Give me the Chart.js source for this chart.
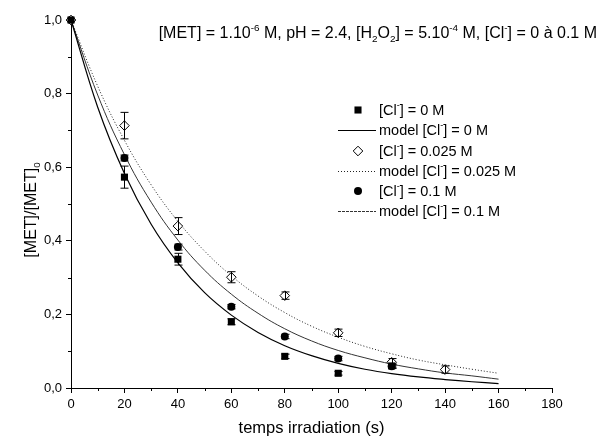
<!DOCTYPE html>
<html>
<head>
<meta charset="utf-8">
<script src="https://cdn.jsdelivr.net/npm/chart.js@4/dist/chart.umd.min.js"></script>
<style>
html,body{margin:0;padding:0;background:#fff;}
#wrap{width:602px;height:445px;position:relative;}
</style>
</head>
<body>
<div id="wrap"><canvas id="c" width="602" height="445"></canvas></div>
<script>
// ---- data ----
const timePoints = [0, 20, 40, 60, 80, 100, 120];
const timePoints025 = [0, 20, 40, 60, 80, 100, 120, 140];
const cl0Values = [1.0, 0.573, 0.35, 0.18, 0.086, 0.04, 0.06];
const cl0Errors = [0, 0.03, 0.016, 0.008, 0.006, 0.005, 0.005];
const cl025Values = [1.0, 0.713, 0.44, 0.301, 0.251, 0.15, 0.07, 0.05];
const cl025Errors = [0, 0.036, 0.023, 0.015, 0.01, 0.01, 0.01, 0.01];
const cl01Values = [1.0, 0.625, 0.383, 0.221, 0.14, 0.08, 0.059];
const cl01Errors = [0, 0.008, 0.008, 0.006, 0.006, 0.006, 0.006];

const modelTimes = [0, 10, 20, 30, 40, 50, 60, 70, 80, 90, 100, 110, 120, 130, 140, 150, 160];
const model0 = [1, 0.763, 0.583, 0.445, 0.340, 0.259, 0.198, 0.151, 0.115, 0.088, 0.067, 0.051, 0.039, 0.030, 0.023, 0.017, 0.012];
const model025 = [1, 0.820, 0.673, 0.552, 0.453, 0.372, 0.305, 0.250, 0.205, 0.168, 0.138, 0.113, 0.093, 0.076, 0.063, 0.051, 0.040];
const model01 = [1, 0.796, 0.634, 0.505, 0.402, 0.320, 0.255, 0.203, 0.161, 0.128, 0.102, 0.082, 0.065, 0.052, 0.041, 0.033, 0.024];

const xTicks = [0, 20, 40, 60, 80, 100, 120, 140, 160, 180];
const yTicks = [0, 0.2, 0.4, 0.6, 0.8, 1.0];

const FONT = '"Liberation Sans", Arial, sans-serif';

function pts(xs, ys) { return xs.map((x, i) => ({x: x, y: ys[i]})); }

const datasets = [
  {label: 'cl0', data: pts(timePoints, cl0Values), errors: cl0Errors, showLine: false,
   pointStyle: 'rect', pointRadius: 5, backgroundColor: '#000', borderColor: '#000', borderWidth: 0, clip: false},
  {label: 'model0', data: pts(modelTimes, model0), showLine: true, pointRadius: 0,
   borderColor: '#000', borderWidth: 1.2, tension: 0.4, clip: false},
  {label: 'cl025', data: pts(timePoints025, cl025Values), errors: cl025Errors, showLine: false,
   pointStyle: 'rectRot', pointRadius: 4.8, backgroundColor: '#fff', borderColor: '#000', borderWidth: 1, clip: false},
  {label: 'model025', data: pts(modelTimes, model025), showLine: true, pointRadius: 0,
   borderColor: '#222', borderWidth: 1, borderDash: [1, 2], tension: 0.4, clip: false},
  {label: 'cl01', data: pts(timePoints, cl01Values), errors: cl01Errors, showLine: false,
   pointStyle: 'circle', pointRadius: 4, backgroundColor: '#000', borderColor: '#000', borderWidth: 0, clip: false},
  {label: 'model01', data: pts(modelTimes, model01), showLine: true, pointRadius: 0,
   borderColor: '#333', borderWidth: 1, tension: 0.4, clip: false}
];

function richWidth(ctx, segs, size) {
  let w = 0;
  segs.forEach(s => {
    const sz = (s.sup || s.sub) ? size * 0.62 : size;
    ctx.font = sz + 'px ' + FONT;
    w += ctx.measureText(s.t).width;
  });
  return w;
}
// draws rich text segments (sup/sub) starting at x, baseline y
function drawRich(ctx, segs, x, y, size) {
  let cx = x;
  segs.forEach(s => {
    const sz = (s.sup || s.sub) ? size * 0.62 : size;
    ctx.font = sz + 'px ' + FONT;
    let dy = 0;
    if (s.sup) dy = -size * 0.45;
    if (s.sub) dy = size * 0.25;
    ctx.fillText(s.t, cx, y + dy);
    cx += ctx.measureText(s.t).width;
  });
  return cx;
}

const errorBars = {
  id: 'errorBars',
  afterDatasetsDraw(chart) {
    const ctx = chart.ctx, xs = chart.scales.x, ys = chart.scales.y;
    ctx.save();
    ctx.strokeStyle = '#000';
    ctx.lineWidth = 1;
    chart.data.datasets.forEach(ds => {
      if (!ds.errors) return;
      ds.data.forEach((p, i) => {
        const e = ds.errors[i];
        if (!e) return;
        const px = Math.round(xs.getPixelForValue(p.x)) + 0.5;
        const y1 = ys.getPixelForValue(p.y + e), y2 = ys.getPixelForValue(p.y - e);
        ctx.beginPath();
        ctx.moveTo(px, y1); ctx.lineTo(px, y2);
        ctx.moveTo(px - 4, y1); ctx.lineTo(px + 4, y1);
        ctx.moveTo(px - 4, y2); ctx.lineTo(px + 4, y2);
        ctx.stroke();
      });
    });
    ctx.restore();
  }
};

const decorations = {
  id: 'decorations',
  afterDraw(chart) {
    const ctx = chart.ctx, xs = chart.scales.x, ys = chart.scales.y;
    const ca = chart.chartArea;
    ctx.save();
    ctx.strokeStyle = '#000';
    ctx.lineWidth = 1;
    // minor ticks
    ctx.beginPath();
    for (let v = 10; v < 180; v += 20) {
      const px = Math.round(xs.getPixelForValue(v)) + 0.5;
      ctx.moveTo(px, ca.bottom); ctx.lineTo(px, ca.bottom + 3);
    }
    for (let v = 0.1; v < 1; v += 0.2) {
      const py = Math.round(ys.getPixelForValue(v)) + 0.5;
      ctx.moveTo(ca.left, py); ctx.lineTo(ca.left - 3, py);
    }
    ctx.stroke();

    ctx.fillStyle = '#000';
    ctx.textBaseline = 'alphabetic';
    ctx.textAlign = 'left';
    // title
    const titleSegs = [
      {t: '[MET] = 1.10'}, {t: '-6', sup: true}, {t: ' M, pH = 2.4, [H'}, {t: '2', sub: true},
      {t: 'O'}, {t: '2', sub: true}, {t: '] = 5.10'}, {t: '-4', sup: true},
      {t: ' M, [Cl'}, {t: '-', sup: true}, {t: '] = 0 à 0.1 M'}
    ];
    const tw = richWidth(ctx, titleSegs, 16);
    drawRich(ctx, titleSegs, 597 - tw, 38, 16);

    // x axis title
    ctx.font = '16.5px ' + FONT;
    ctx.textAlign = 'center';
    ctx.fillText('temps irradiation (s)', (xs.getPixelForValue(0) + xs.getPixelForValue(180)) / 2, 433);

    // y axis title
    ctx.save();
    ctx.translate(36, 210);
    ctx.rotate(-Math.PI / 2);
    const ysegs = [{t: '[MET]/[MET]'}, {t: '0', sub: true}];
    const yw = richWidth(ctx, ysegs, 16);
    ctx.textAlign = 'left';
    drawRich(ctx, ysegs, -yw / 2, 0, 16);
    ctx.restore();

    // legend
    const rows = [110, 130, 151, 171, 191, 211];
    const labels = [
      [{t: '[Cl'}, {t: '-', sup: true}, {t: '] = 0 M'}],
      [{t: 'model [Cl'}, {t: '-', sup: true}, {t: '] = 0 M'}],
      [{t: '[Cl'}, {t: '-', sup: true}, {t: '] = 0.025 M'}],
      [{t: 'model [Cl'}, {t: '-', sup: true}, {t: '] = 0.025 M'}],
      [{t: '[Cl'}, {t: '-', sup: true}, {t: '] = 0.1 M'}],
      [{t: 'model [Cl'}, {t: '-', sup: true}, {t: '] = 0.1 M'}]
    ];
    datasets.forEach((ds, i) => {
      const y = rows[i];
      if (ds.showLine) {
        ctx.save();
        ctx.strokeStyle = ds.borderColor;
        ctx.lineWidth = ds.borderWidth;
        ctx.setLineDash(ds.borderDash || (i === 5 ? [3, 1] : []));
        ctx.beginPath();
        ctx.moveTo(338, y + 0.5); ctx.lineTo(376, y + 0.5);
        ctx.stroke();
        ctx.restore();
      } else {
        ctx.save();
        ctx.fillStyle = ds.backgroundColor;
        ctx.strokeStyle = ds.borderColor;
        ctx.lineWidth = ds.borderWidth || 1;
        Chart.helpers.drawPoint(ctx, {pointStyle: ds.pointStyle, radius: ds.pointRadius, rotation: 0, borderWidth: ds.borderWidth}, 358, y);
        ctx.restore();
      }
      ctx.fillStyle = '#000';
      ctx.textAlign = 'left';
      drawRich(ctx, labels[i], 379, y + 5, 14.5);
    });
    ctx.restore();
  }
};

new Chart(document.getElementById('c'), {
  type: 'scatter',
  data: {datasets: datasets},
  options: {
    responsive: false,
    animation: false,
    devicePixelRatio: 1,
    layout: {padding: {left: 0, top: 20, right: 50, bottom: 0}},
    plugins: {legend: {display: false}, tooltip: {enabled: false}},
    scales: {
      x: {
        type: 'linear', min: 0, max: 180,
        afterBuildTicks: s => { s.ticks = xTicks.map(v => ({value: v})); },
        afterFit: s => { s.height = 57; },
        ticks: {color: '#000', font: {family: FONT, size: 13}, padding: 4, maxRotation: 0, autoSkip: false},
        grid: {display: true, drawOnChartArea: false, drawTicks: true, tickLength: 5, color: '#000', lineWidth: 1},
        border: {display: true, color: '#000', width: 1}
      },
      y: {
        type: 'linear', min: 0, max: 1,
        afterBuildTicks: s => { s.ticks = yTicks.map(v => ({value: v})); },
        afterFit: s => { s.width = 71; },
        ticks: {color: '#000', font: {family: FONT, size: 13}, padding: 4,
          callback: v => Number(v).toFixed(1).replace('.', ',')},
        grid: {display: true, drawOnChartArea: false, drawTicks: true, tickLength: 5, color: '#000', lineWidth: 1},
        border: {display: true, color: '#000', width: 1}
      }
    }
  },
  plugins: [errorBars, decorations]
});
</script>
</body>
</html>
